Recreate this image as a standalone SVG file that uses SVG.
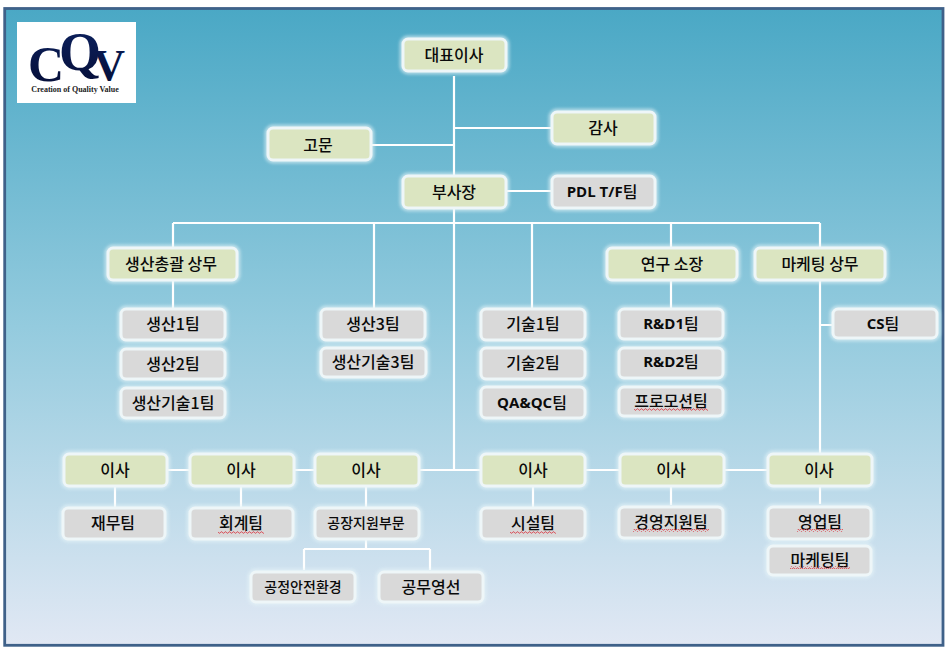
<svg xmlns="http://www.w3.org/2000/svg" width="952" height="651" viewBox="0 0 952 651">
<style>
.n rect{stroke:#eef6f8;stroke-width:3}
.n .glow{fill:#f0f8fb;stroke:#e6f4f8;stroke-width:7;opacity:.6;filter:url(#b)}
.g rect.f{fill:#dbe5c1}
.t rect.f{fill:#d9d9d9}
text{font-family:"Noto Sans CJK KR","Noto Sans",sans-serif;font-size:16px;font-weight:500;fill:#0a0a0a;text-anchor:middle;dominant-baseline:central}
.s{font-size:14px}
.l{font-family:"Open Sans","Noto Sans CJK KR",sans-serif;font-weight:700;font-size:15px}
.l tspan{font-family:"Noto Sans CJK KR",sans-serif;font-weight:500;font-size:16px}
.n rect.q{fill:url(#wave);stroke:none}
#c path{stroke:#fff;stroke-width:2.2;fill:none}
.lg{font-family:"Liberation Serif",serif;font-weight:700;fill:url(#navy);dominant-baseline:auto;text-anchor:start}
.lg2{font-family:"Liberation Serif",serif;font-weight:700;font-size:8px;fill:#222;dominant-baseline:auto}
</style>
<defs>
<linearGradient id="bg" x1="0" y1="0" x2="0" y2="1"><stop offset="0" stop-color="#4aa8c5"/><stop offset=".5" stop-color="#94cbde"/><stop offset="1" stop-color="#e1e8f4"/></linearGradient>
<linearGradient id="navy" x1="0" y1="0" x2="0" y2="1"><stop offset="0" stop-color="#0c2260"/><stop offset="1" stop-color="#050d35"/></linearGradient>
<filter id="b" x="-20%" y="-40%" width="140%" height="180%"><feGaussianBlur stdDeviation="1.6"/></filter>
<pattern id="wave" width="4" height="3" patternUnits="userSpaceOnUse"><path d="M0 2.2 L1 .8 L2 .8 L3 2.2 L4 2.2" fill="none" stroke="#d8404a" stroke-width=".8"/></pattern>
</defs>
<rect width="952" height="651" fill="#fff"/>
<rect x="4.7" y="8.5" width="938.3" height="636.8" fill="url(#bg)" stroke="#3f6189" stroke-width="2.8"/>
<g id="logo">
<rect x="17" y="22" width="119" height="81" fill="#fff"/>
<text class="lg" x="28" y="81" style="font-size:50px">C<tspan dx="-5" dy="-11" style="font-size:54px">Q</tspan><tspan dx="-8" dy="10" style="font-size:44px">V</tspan></text>
<text class="lg2" x="75" y="91.5">Creation of Quality Value</text>
</g>
<g id="c">
<path d="M454 76V470M454 128H551M372 145H454M507 191H551"/>
<path d="M173 223H820M173 223V247M374 223V308M532 223V308M671 223V247M820 223V247"/>
<path d="M173 281V308M671 281V308M820 281V453M820 325H832"/>
<path d="M168 470H189M295 470H314M420 470H480M586 470H619M725 470H767"/>
<path d="M115 487V507M241 487V507M366 487V507M533 487V507M671 487V505M820 487V504"/>
<path d="M366 540V549M304 549H430M304 549V570M430 549V570"/>
</g>
<g id="n1" class="n g"><rect class="glow" x="403" y="39" width="103" height="32" rx="5"/><rect class="f" x="403" y="39" width="103" height="32" rx="5"/><text x="454" y="54">대표이사</text></g>
<g id="n2" class="n g"><rect class="glow" x="552" y="112" width="103" height="32" rx="5"/><rect class="f" x="552" y="112" width="103" height="32" rx="5"/><text x="603" y="127">감사</text></g>
<g id="n3" class="n g"><rect class="glow" x="268" y="128" width="103" height="32" rx="5"/><rect class="f" x="268" y="128" width="103" height="32" rx="5"/><text x="318" y="144">고문</text></g>
<g id="n4" class="n g"><rect class="glow" x="403" y="176" width="103" height="32" rx="5"/><rect class="f" x="403" y="176" width="103" height="32" rx="5"/><text x="454" y="191">부사장</text></g>
<g id="n5" class="n t"><rect class="glow" x="552" y="176" width="103" height="32" rx="5"/><rect class="f" x="552" y="176" width="103" height="32" rx="5"/><text class="l" x="602" y="191">PDL T/F<tspan>팀</tspan></text></g>
<g id="n6" class="n g"><rect class="glow" x="108" y="248" width="129" height="32" rx="5"/><rect class="f" x="108" y="248" width="129" height="32" rx="5"/><text x="171" y="263">생산총괄 상무</text></g>
<g id="n7" class="n g"><rect class="glow" x="607" y="248" width="130" height="32" rx="5"/><rect class="f" x="607" y="248" width="130" height="32" rx="5"/><text x="672" y="263">연구 소장</text></g>
<g id="n8" class="n g"><rect class="glow" x="755" y="248" width="130" height="32" rx="5"/><rect class="f" x="755" y="248" width="130" height="32" rx="5"/><text x="820" y="263">마케팅 상무</text></g>
<g id="n9" class="n t"><rect class="glow" x="121" y="309" width="104" height="31" rx="5"/><rect class="f" x="121" y="309" width="104" height="31" rx="5"/><text x="173" y="323">생산1팀</text></g>
<g id="n10" class="n t"><rect class="glow" x="121" y="349" width="104" height="30" rx="5"/><rect class="f" x="121" y="349" width="104" height="30" rx="5"/><text x="173" y="363">생산2팀</text></g>
<g id="n11" class="n t"><rect class="glow" x="121" y="388" width="104" height="30" rx="5"/><rect class="f" x="121" y="388" width="104" height="30" rx="5"/><text x="173" y="402">생산기술1팀</text></g>
<g id="n12" class="n t"><rect class="glow" x="321" y="309" width="104" height="31" rx="5"/><rect class="f" x="321" y="309" width="104" height="31" rx="5"/><text x="373" y="323">생산3팀</text></g>
<g id="n13" class="n t"><rect class="glow" x="321" y="348" width="105" height="29" rx="5"/><rect class="f" x="321" y="348" width="105" height="29" rx="5"/><text x="373" y="361">생산기술3팀</text></g>
<g id="n14" class="n t"><rect class="glow" x="481" y="309" width="104" height="31" rx="5"/><rect class="f" x="481" y="309" width="104" height="31" rx="5"/><text x="533" y="323">기술1팀</text></g>
<g id="n15" class="n t"><rect class="glow" x="481" y="348" width="104" height="31" rx="5"/><rect class="f" x="481" y="348" width="104" height="31" rx="5"/><text x="533" y="362">기술2팀</text></g>
<g id="n16" class="n t"><rect class="glow" x="481" y="387" width="104" height="31" rx="5"/><rect class="f" x="481" y="387" width="104" height="31" rx="5"/><text class="l" x="532" y="402">QA&amp;QC<tspan>팀</tspan></text></g>
<g id="n17" class="n t"><rect class="glow" x="619" y="309" width="104" height="30" rx="5"/><rect class="f" x="619" y="309" width="104" height="30" rx="5"/><text class="l" x="671" y="323">R&amp;D1<tspan>팀</tspan></text></g>
<g id="n18" class="n t"><rect class="glow" x="619" y="348" width="104" height="30" rx="5"/><rect class="f" x="619" y="348" width="104" height="30" rx="5"/><text class="l" x="671" y="361">R&amp;D2<tspan>팀</tspan></text></g>
<g id="n19" class="n t"><rect class="glow" x="619" y="387" width="104" height="29" rx="5"/><rect class="f" x="619" y="387" width="104" height="29" rx="5"/><text x="671" y="400">프로모션팀</text><rect class="q" x="634" y="408" width="74" height="3"/></g>
<g id="n20" class="n t"><rect class="glow" x="833" y="309" width="104" height="29" rx="5"/><rect class="f" x="833" y="309" width="104" height="29" rx="5"/><text class="l" x="883" y="323">CS<tspan>팀</tspan></text></g>
<g id="n21" class="n g"><rect class="glow" x="64" y="454" width="103" height="32" rx="5"/><rect class="f" x="64" y="454" width="103" height="32" rx="5"/><text x="115" y="469">이사</text></g>
<g id="n22" class="n g"><rect class="glow" x="190" y="454" width="104" height="32" rx="5"/><rect class="f" x="190" y="454" width="104" height="32" rx="5"/><text x="241" y="469">이사</text></g>
<g id="n23" class="n g"><rect class="glow" x="315" y="454" width="104" height="32" rx="5"/><rect class="f" x="315" y="454" width="104" height="32" rx="5"/><text x="366" y="469">이사</text></g>
<g id="n24" class="n g"><rect class="glow" x="481" y="454" width="104" height="32" rx="5"/><rect class="f" x="481" y="454" width="104" height="32" rx="5"/><text x="533" y="469">이사</text></g>
<g id="n25" class="n g"><rect class="glow" x="620" y="454" width="104" height="32" rx="5"/><rect class="f" x="620" y="454" width="104" height="32" rx="5"/><text x="671" y="469">이사</text></g>
<g id="n26" class="n g"><rect class="glow" x="768" y="454" width="104" height="32" rx="5"/><rect class="f" x="768" y="454" width="104" height="32" rx="5"/><text x="819" y="469">이사</text></g>
<g id="n27" class="n t"><rect class="glow" x="63" y="508" width="102" height="31" rx="5"/><rect class="f" x="63" y="508" width="102" height="31" rx="5"/><text x="113" y="522">재무팀</text></g>
<g id="n28" class="n t"><rect class="glow" x="190" y="508" width="103" height="31" rx="5"/><rect class="f" x="190" y="508" width="103" height="31" rx="5"/><text x="241" y="522">회계팀</text><rect class="q" x="218" y="531" width="46" height="3"/></g>
<g id="n29" class="n t"><rect class="glow" x="315" y="508" width="104" height="31" rx="5"/><rect class="f" x="315" y="508" width="104" height="31" rx="5"/><text class="s" x="366" y="522">공장지원부문</text></g>
<g id="n30" class="n t"><rect class="glow" x="481" y="508" width="104" height="31" rx="5"/><rect class="f" x="481" y="508" width="104" height="31" rx="5"/><text x="533" y="522">시설팀</text><rect class="q" x="510" y="531" width="46" height="3"/></g>
<g id="n31" class="n t"><rect class="glow" x="619" y="507" width="104" height="31" rx="5"/><rect class="f" x="619" y="507" width="104" height="31" rx="5"/><text x="671" y="521">경영지원팀</text><rect class="q" x="633" y="529" width="76" height="3"/></g>
<g id="n32" class="n t"><rect class="glow" x="768" y="507" width="103" height="32" rx="5"/><rect class="f" x="768" y="507" width="103" height="32" rx="5"/><text x="820" y="521">영업팀</text><rect class="q" x="797" y="529" width="46" height="3"/></g>
<g id="n33" class="n t"><rect class="glow" x="768" y="546" width="103" height="29" rx="5"/><rect class="f" x="768" y="546" width="103" height="29" rx="5"/><text x="820" y="559">마케팅팀</text><rect class="q" x="790" y="566" width="60" height="3"/></g>
<g id="n34" class="n t"><rect class="glow" x="251" y="572" width="104" height="30" rx="5"/><rect class="f" x="251" y="572" width="104" height="30" rx="5"/><text class="s" x="303" y="586">공정안전환경</text></g>
<g id="n35" class="n t"><rect class="glow" x="379" y="572" width="104" height="30" rx="5"/><rect class="f" x="379" y="572" width="104" height="30" rx="5"/><text x="431" y="586">공무영선</text></g>
</svg>
